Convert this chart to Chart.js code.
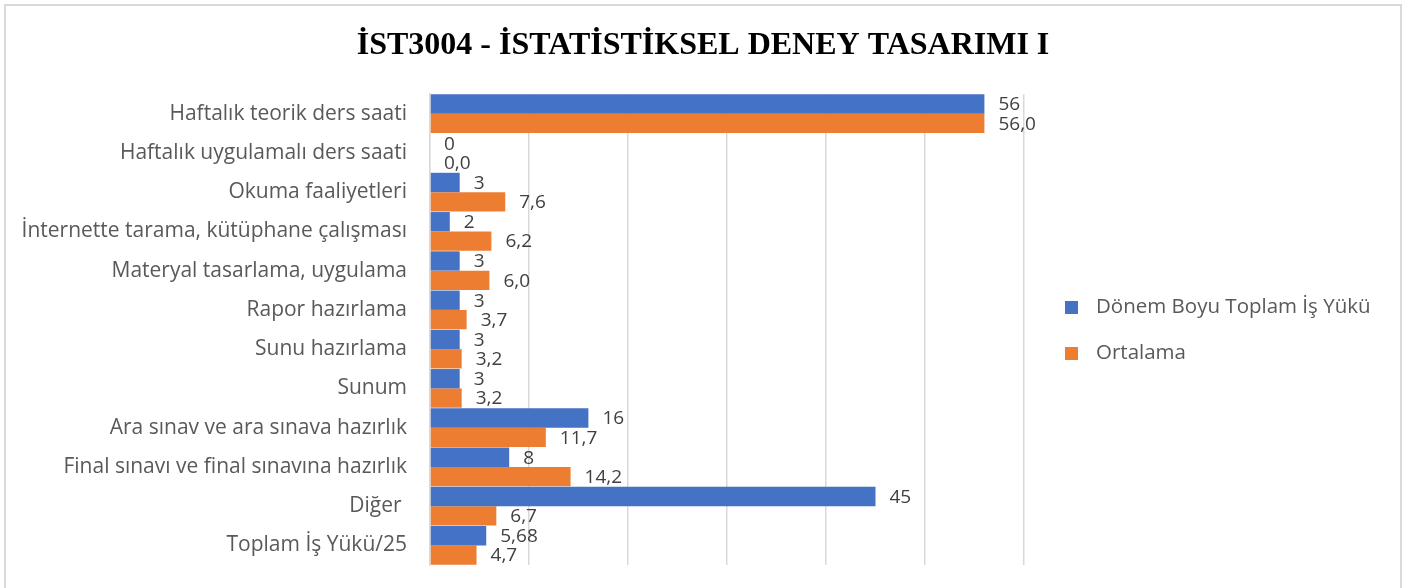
<!DOCTYPE html>
<html>
<head>
<meta charset="utf-8">
<script src="https://cdn.jsdelivr.net/npm/chart.js@4.4.1/dist/chart.umd.min.js"></script>
<style>
  html, body { margin: 0; padding: 0; background: #ffffff; }
  #wrap { position: relative; width: 1410px; height: 588px; }
  canvas { display: block; }
</style>
</head>
<body>
<div id="wrap"><canvas id="c" width="1410" height="588"></canvas></div>
<script>
const chartTitle = "İST3004 - İSTATİSTİKSEL DENEY TASARIMI I";
const categories = [
  "Haftalık teorik ders saati",
  "Haftalık uygulamalı ders saati",
  "Okuma faaliyetleri",
  "İnternette tarama, kütüphane çalışması",
  "Materyal tasarlama, uygulama",
  "Rapor hazırlama",
  "Sunu hazırlama",
  "Sunum",
  "Ara sınav ve ara sınava hazırlık",
  "Final sınavı ve final sınavına hazırlık",
  "Diğer ",
  "Toplam İş Yükü/25"
];
const seriesNames = ["Dönem Boyu Toplam İş Yükü", "Ortalama"];
const donemBoyu = [56, 0, 3, 2, 3, 3, 3, 3, 16, 8, 45, 5.68];
const ortalama = [56.0, 0.0, 7.6, 6.2, 6.0, 3.7, 3.2, 3.2, 11.7, 14.2, 6.7, 4.7];
const xMin = 0, xMax = 60, xStep = 10;

const BLUE = "#4472C4", ORANGE = "#ED7D31";
const FONT = "'Open Sans', 'Noto Sans', sans-serif";

function fmtBlue(v) { return String(v).replace('.', ','); }
function fmtOrange(v) { return v.toFixed(1).replace('.', ','); }

const framePlugin = {
  id: 'frame',
  beforeDraw(chart) {
    const ctx = chart.ctx;
    ctx.save();
    ctx.fillStyle = '#ffffff';
    ctx.fillRect(0, 0, chart.width, chart.height);
    ctx.strokeStyle = '#d9d9d9';
    ctx.lineWidth = 2;
    ctx.beginPath();
    ctx.moveTo(5, 600);
    ctx.lineTo(5, 5);
    ctx.lineTo(1401, 5);
    ctx.lineTo(1401, 600);
    ctx.stroke();
    ctx.restore();
  }
};

const titlePlugin = {
  id: 'customTitle',
  afterDraw(chart) {
    const ctx = chart.ctx;
    ctx.save();
    ctx.font = "bold 32px 'Liberation Serif', 'Times New Roman', serif";
    ctx.fillStyle = '#000000';
    ctx.textAlign = 'center';
    ctx.textBaseline = 'alphabetic';
    ctx.fillText(chartTitle, 703, 54);
    ctx.restore();
  }
};

const labelsPlugin = {
  id: 'barLabels',
  afterDatasetsDraw(chart) {
    const ctx = chart.ctx;
    ctx.save();
    ctx.font = "19px " + FONT;
    ctx.fillStyle = '#404040';
    ctx.textAlign = 'left';
    ctx.textBaseline = 'middle';
    chart.data.datasets.forEach((ds, di) => {
      const meta = chart.getDatasetMeta(di);
      meta.data.forEach((el, i) => {
        const v = ds.data[i];
        const txt = di === 0 ? fmtBlue(v) : fmtOrange(v);
        ctx.fillText(txt, el.x + 14, el.y + 1);
      });
    });
    ctx.restore();
  }
};

const legendPlugin = {
  id: 'customLegend',
  afterDraw(chart) {
    const ctx = chart.ctx;
    ctx.save();
    ctx.font = "20.5px " + FONT;
    ctx.textAlign = 'left';
    ctx.textBaseline = 'middle';
    const items = [
      { name: seriesNames[0], color: chart.data.datasets[0].backgroundColor, y: 307 },
      { name: seriesNames[1], color: chart.data.datasets[1].backgroundColor, y: 353 }
    ];
    items.forEach(it => {
      ctx.fillStyle = it.color;
      ctx.fillRect(1065, it.y - 6, 13, 13);
      ctx.fillStyle = '#595959';
      ctx.fillText(it.name, 1096, it.y);
    });
    ctx.restore();
  }
};

new Chart(document.getElementById('c'), {
  type: 'bar',
  data: {
    labels: categories,
    datasets: [
      { label: seriesNames[0], data: donemBoyu, backgroundColor: BLUE, borderWidth: 0,
        barPercentage: 1.0, categoryPercentage: 0.985 },
      { label: seriesNames[1], data: ortalama, backgroundColor: ORANGE, borderWidth: 0,
        barPercentage: 1.0, categoryPercentage: 0.985 }
    ]
  },
  options: {
    indexAxis: 'y',
    responsive: false,
    animation: false,
    devicePixelRatio: 1,
    layout: { padding: { top: 94, right: 386, bottom: 23, left: 0 } },
    plugins: {
      legend: { display: false },
      title: { display: false },
      tooltip: { enabled: false }
    },
    scales: {
      x: {
        min: xMin, max: xMax,
        ticks: { display: false, stepSize: xStep },
        grid: { color: '#d9d9d9', lineWidth: 1.5, drawTicks: false },
        border: { display: false },
        afterFit(scale) { scale.height = 0; scale.paddingLeft = 0; scale.paddingRight = 0; }
      },
      y: {
        ticks: { color: '#595959', font: { family: FONT, size: 21 }, padding: 23, autoSkip: false },
        grid: { display: false, drawTicks: false },
        border: { display: true, color: '#d9d9d9', width: 1.5 },
        afterFit(scale) { scale.width = 430; scale.paddingTop = 0; scale.paddingBottom = 0; }
      }
    }
  },
  plugins: [framePlugin, titlePlugin, labelsPlugin, legendPlugin]
});
</script>
</body>
</html>
